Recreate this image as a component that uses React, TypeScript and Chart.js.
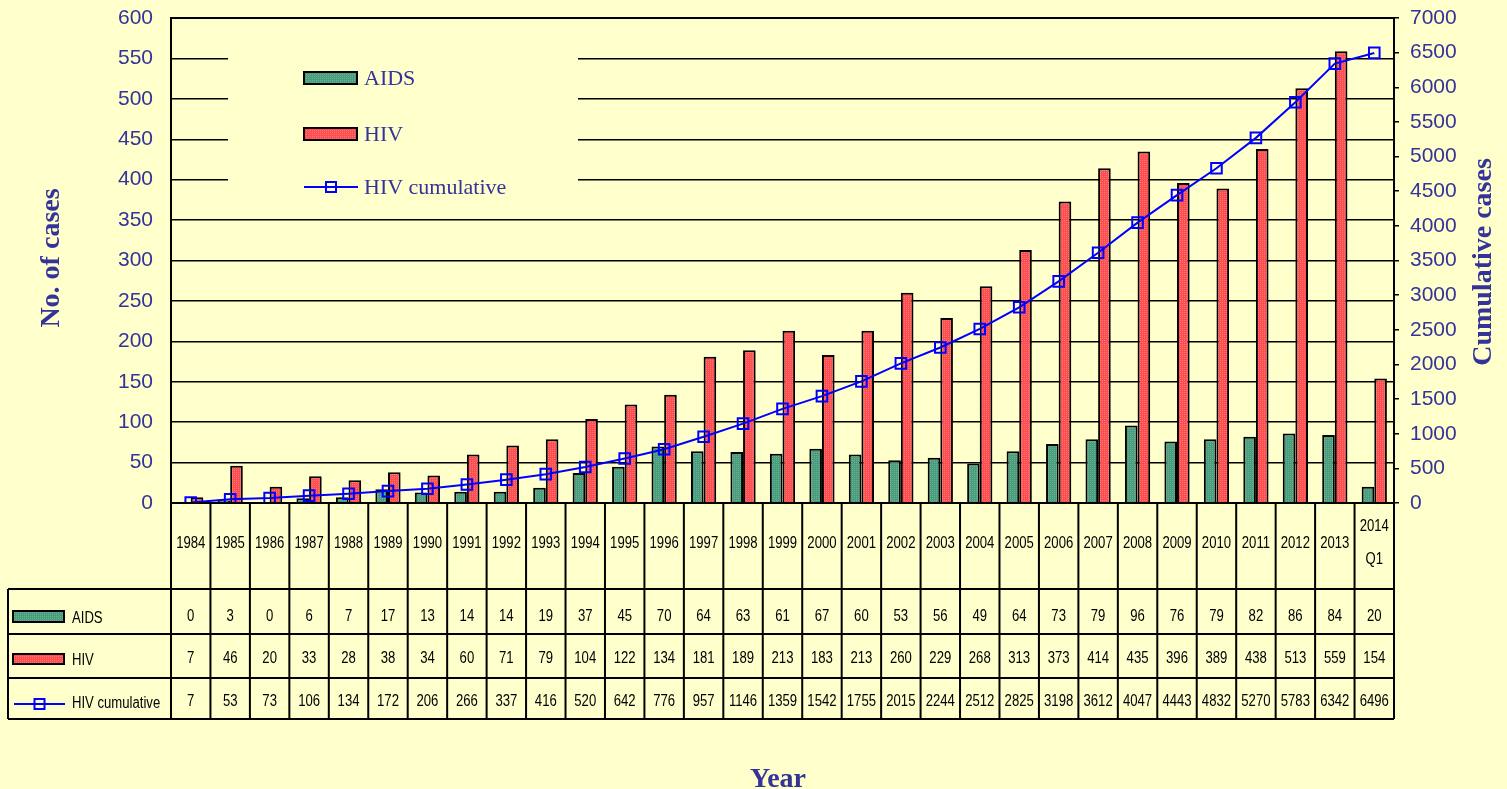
import React, { useEffect, useRef } from "react";
import { Chart, registerables } from "chart.js";

Chart.register(...registerables);

const years = [
  "1984", "1985", "1986", "1987", "1988", "1989", "1990", "1991", "1992", "1993",
  "1994", "1995", "1996", "1997", "1998", "1999", "2000", "2001", "2002", "2003",
  "2004", "2005", "2006", "2007", "2008", "2009", "2010", "2011", "2012", "2013",
  "2014 Q1",
];
const aids = [0, 3, 0, 6, 7, 17, 13, 14, 14, 19, 37, 45, 70, 64, 63, 61, 67, 60, 53, 56, 49, 64, 73, 79, 96, 76, 79, 82, 86, 84, 20];
const hiv = [7, 46, 20, 33, 28, 38, 34, 60, 71, 79, 104, 122, 134, 181, 189, 213, 183, 213, 260, 229, 268, 313, 373, 414, 435, 396, 389, 438, 513, 559, 154];
const hivCum = [7, 53, 73, 106, 134, 172, 206, 266, 337, 416, 520, 642, 776, 957, 1146, 1359, 1542, 1755, 2015, 2244, 2512, 2825, 3198, 3612, 4047, 4443, 4832, 5270, 5783, 6342, 6496];

const BG = "#FFFFCC";
const TXT = "#333399";
const W = 1507;
const H = 789;
const PLOT_L = 171;
const PLOT_R = 1394;
const PLOT_T = 18;
const PLOT_B = 503;

function makePattern(c1: string, c2: string): CanvasPattern | string {
  const pc = document.createElement("canvas");
  pc.width = 2;
  pc.height = 2;
  const p = pc.getContext("2d");
  if (!p) return c1;
  p.fillStyle = c1;
  p.fillRect(0, 0, 2, 2);
  p.fillStyle = c2;
  p.fillRect(0, 0, 1, 1);
  const ctx = document.createElement("canvas").getContext("2d");
  return (ctx && ctx.createPattern(pc, "repeat")) || c1;
}

export default function App() {
  const ref = useRef<HTMLCanvasElement | null>(null);

  useEffect(() => {
    if (!ref.current) return;
    const greenPat = makePattern("#4A9C7C", "#64B494");
    const redPat = makePattern("#FF4C4C", "#FF7474");

    const drawSwatch = (ctx: CanvasRenderingContext2D, kind: string, x: number, y: number, w: number, h: number) => {
      if (kind === "line") {
        ctx.strokeStyle = "#0000FF";
        ctx.lineWidth = 2;
        ctx.beginPath();
        ctx.moveTo(x, y);
        ctx.lineTo(x + w, y);
        ctx.stroke();
        ctx.strokeRect(x + w / 2 - 5, y - 5, 10, 10);
      } else {
        ctx.fillStyle = kind === "aids" ? (greenPat as any) : (redPat as any);
        ctx.fillRect(x, y, w, h);
        ctx.strokeStyle = "#000";
        ctx.lineWidth = 2;
        ctx.strokeRect(x, y, w, h);
      }
    };

    const narrowText = (ctx: CanvasRenderingContext2D, text: string, x: number, y: number) => {
      ctx.save();
      ctx.translate(x, y);
      ctx.scale(0.82, 1);
      ctx.fillText(text, 0, 0);
      ctx.restore();
    };

    const legendBox = {
      id: "legendBox",
      beforeDatasetsDraw(chart: any) {
        const ctx = chart.ctx as CanvasRenderingContext2D;
        ctx.save();
        ctx.fillStyle = BG;
        ctx.fillRect(228, 38, 350, 160);
        const items = [
          { kind: "aids", label: "AIDS", y: 78 },
          { kind: "hiv", label: "HIV", y: 134 },
          { kind: "line", label: "HIV cumulative", y: 187 },
        ];
        ctx.font = '22px "Liberation Serif", serif';
        ctx.textBaseline = "middle";
        for (const it of items) {
          if (it.kind === "line") drawSwatch(ctx, "line", 304, it.y, 54, 0);
          else drawSwatch(ctx, it.kind, 304, it.y - 6, 53, 12);
          ctx.fillStyle = TXT;
          ctx.textAlign = "left";
          ctx.fillText(it.label, 364, it.y + 1);
        }
        ctx.restore();
      },
    };

    const tableAndTitles = {
      id: "tableAndTitles",
      afterDraw(chart: any) {
        const ctx = chart.ctx as CanvasRenderingContext2D;
        const xs = chart.scales.x;
        const n = years.length;
        const half = (xs.getPixelForValue(1) - xs.getPixelForValue(0)) / 2;
        const top = chart.chartArea.top;
        const right = chart.chartArea.right;
        const bottom = chart.chartArea.bottom;
        ctx.save();
        ctx.strokeStyle = "#000";
        ctx.lineWidth = 2;
        ctx.beginPath();
        ctx.moveTo(chart.chartArea.left, top);
        ctx.lineTo(right, top);
        ctx.lineTo(right, bottom);
        ctx.stroke();

        const rows = [bottom, 589, 634, 678, 719];
        const left = 8;
        ctx.lineWidth = 2;
        ctx.beginPath();
        ctx.moveTo(chart.chartArea.left, rows[0]);
        ctx.lineTo(right, rows[0]);
        for (let r = 1; r < rows.length; r++) {
          ctx.moveTo(left, rows[r]);
          ctx.lineTo(right, rows[r]);
        }
        for (let i = 0; i <= n; i++) {
          const x = i < n ? xs.getPixelForValue(i) - half : xs.getPixelForValue(n - 1) + half;
          ctx.moveTo(x, rows[0]);
          ctx.lineTo(x, rows[4]);
        }
        ctx.moveTo(left, rows[1]);
        ctx.lineTo(left, rows[4]);
        ctx.stroke();

        ctx.fillStyle = "#000";
        ctx.font = '16px "Liberation Sans", Arial, sans-serif';
        ctx.textAlign = "center";
        ctx.textBaseline = "middle";
        for (let i = 0; i < n; i++) {
          const x = xs.getPixelForValue(i);
          const lab = years[i];
          if (lab.includes(" ")) {
            const parts = lab.split(" ");
            narrowText(ctx, parts[0], x, 527);
            narrowText(ctx, parts[1], x, 560);
          } else {
            narrowText(ctx, lab, x, 544);
          }
          narrowText(ctx, String(aids[i]), x, 617);
          narrowText(ctx, String(hiv[i]), x, 659);
          narrowText(ctx, String(hivCum[i]), x, 702);
        }
        drawSwatch(ctx, "aids", 13, 611, 51, 11);
        drawSwatch(ctx, "hiv", 13, 654, 51, 10);
        drawSwatch(ctx, "line", 14, 704, 51, 0);
        ctx.fillStyle = "#000";
        ctx.textAlign = "left";
        narrowText(ctx, "AIDS", 72, 619);
        narrowText(ctx, "HIV", 72, 661);
        narrowText(ctx, "HIV cumulative", 72, 704);

        ctx.fillStyle = TXT;
        ctx.font = 'bold 28px "Liberation Serif", "Times New Roman", serif';
        ctx.textAlign = "center";
        ctx.textBaseline = "alphabetic";
        ctx.fillText("Year", 778, 787);
        ctx.textBaseline = "middle";
        ctx.save();
        ctx.translate(52, 258);
        ctx.rotate(-Math.PI / 2);
        ctx.fillText("No. of cases", 0, 0);
        ctx.restore();
        ctx.save();
        ctx.translate(1484, 262);
        ctx.rotate(-Math.PI / 2);
        ctx.fillText("Cumulative cases", 0, 0);
        ctx.restore();
        ctx.restore();
      },
    };

    const fixPad = (scale: any, width: number) => {
      scale.width = width;
      scale.paddingTop = 0;
      scale.paddingBottom = 0;
    };

    const chart = new Chart(ref.current, {
      type: "bar",
      data: {
        labels: years,
        datasets: [
          {
            type: "line",
            label: "HIV cumulative",
            data: hivCum,
            yAxisID: "y1",
            borderColor: "#0000FF",
            borderWidth: 2,
            pointStyle: "rect",
            pointRadius: 7.5,
            pointBorderWidth: 2,
            pointBorderColor: "#0000FF",
            pointBackgroundColor: "rgba(0,0,0,0)",
            tension: 0,
            order: 0,
          } as any,
          {
            label: "AIDS",
            data: aids,
            yAxisID: "y",
            backgroundColor: greenPat as any,
            borderColor: "#000",
            borderWidth: 2,
            categoryPercentage: 0.64,
            barPercentage: 1,
            order: 1,
          },
          {
            label: "HIV",
            data: hiv,
            yAxisID: "y",
            backgroundColor: redPat as any,
            borderColor: "#000",
            borderWidth: 2,
            categoryPercentage: 0.64,
            barPercentage: 1,
            order: 2,
          },
        ],
      },
      options: {
        animation: false,
        responsive: false,
        maintainAspectRatio: false,
        layout: { padding: { left: 0, right: 0, top: PLOT_T, bottom: H - PLOT_B } },
        plugins: { legend: { display: false }, tooltip: { enabled: false } },
        scales: {
          x: { display: false },
          y: {
            position: "left",
            min: 0,
            max: 600,
            ticks: {
              stepSize: 50,
              padding: 18,
              color: TXT,
              font: { family: '"Liberation Sans", Arial, sans-serif', size: 21 },
              callback: (v: any) => String(v),
            },
            grid: { color: "#000", lineWidth: 1.5, drawTicks: false },
            border: { color: "#000", width: 2 },
            afterFit(scale: any) {
              fixPad(scale, PLOT_L);
            },
          },
          y1: {
            position: "right",
            min: 0,
            max: 7000,
            ticks: {
              stepSize: 500,
              padding: 11,
              color: TXT,
              font: { family: '"Liberation Sans", Arial, sans-serif', size: 21 },
              callback: (v: any) => String(v),
            },
            grid: { drawOnChartArea: false, color: "#000", tickLength: 5, lineWidth: 1.5 },
            border: { color: "#000", width: 2 },
            afterFit(scale: any) {
              fixPad(scale, W - PLOT_R);
            },
          },
        },
      },
      plugins: [legendBox, tableAndTitles],
    });
    return () => chart.destroy();
  }, []);

  return (
    <div style={{ position: "absolute", left: 0, top: 0, width: W, height: H, background: BG }}>
      <canvas ref={ref} width={W} height={H} style={{ display: "block" }} />
    </div>
  );
}
